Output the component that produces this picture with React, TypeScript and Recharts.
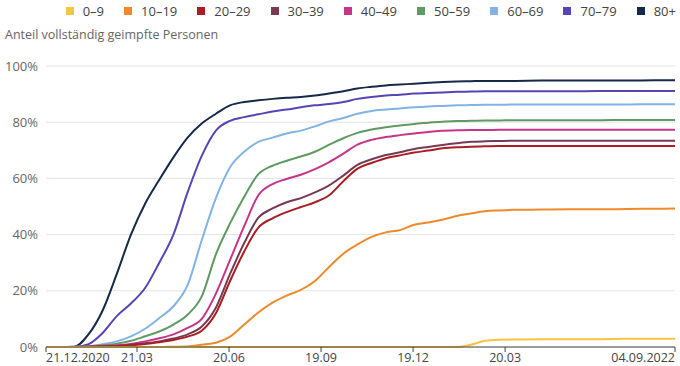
import React from "react";
import { LineChart, Line, XAxis, YAxis, CartesianGrid } from "recharts";

const dates = [
  "2020-12-21", "2021-01-04", "2021-01-18", "2021-02-01", "2021-02-15", "2021-03-01",
  "2021-03-15", "2021-03-29", "2021-04-12", "2021-04-26", "2021-05-10", "2021-05-24",
  "2021-06-07", "2021-06-21", "2021-07-05", "2021-07-19", "2021-08-02", "2021-08-16",
  "2021-08-30", "2021-09-13", "2021-09-27", "2021-10-11", "2021-10-25", "2021-11-08",
  "2021-11-22", "2021-12-06", "2021-12-20", "2022-01-03", "2022-01-17", "2022-01-31",
  "2022-02-14", "2022-02-28", "2022-03-14", "2022-03-28", "2022-04-25", "2022-05-23",
  "2022-06-20", "2022-07-18", "2022-08-15", "2022-09-04",
];

const age0 = [
  0, 0, 0, 0, 0, 0, 0, 0, 0, 0, 0, 0, 0, 0, 0, 0, 0, 0, 0, 0,
  0, 0, 0, 0, 0, 0, 0, 0, 0, 0, 0.8, 2.2, 2.6, 2.7, 2.8, 2.8, 2.8, 2.9, 2.9, 2.9,
];
const age10 = [
  0, 0, 0, 0, 0, 0, 0, 0, 0, 0.1, 0.2, 0.8, 1.5, 3.7, 8, 12.3, 15.8, 18.3, 20.3, 23.5,
  28.5, 33.2, 36.5, 39.2, 40.8, 41.6, 43.5, 44.3, 45.3, 46.6, 47.5, 48.3, 48.6, 48.8, 48.9, 49, 49, 49.1, 49.2, 49.3,
];
const age20 = [
  0, 0, 0, 0.1, 0.2, 0.3, 0.6, 1.1, 1.7, 2.5, 3.7, 5.8, 12, 23.5, 34, 42.5, 45.8, 48, 49.8, 51.5,
  54, 59, 63.5, 65.5, 67.2, 68.2, 69.2, 69.9, 70.7, 71.1, 71.3, 71.4, 71.5, 71.5, 71.5, 71.5, 71.5, 71.5, 71.5, 71.5,
];
const age30 = [
  0, 0, 0, 0.1, 0.2, 0.4, 0.8, 1.3, 2, 3, 4.5, 7.3, 14, 26, 37, 46, 49.3, 51.5, 53, 55,
  57.5, 61, 64.8, 66.8, 68.3, 69.3, 70.5, 71.2, 71.9, 72.5, 73, 73.2, 73.3, 73.4, 73.4, 73.4, 73.4, 73.4, 73.4, 73.4,
];
const age40 = [
  0, 0, 0, 0.1, 0.3, 0.6, 1.1, 2, 3.1, 4.5, 6.8, 10, 19, 31, 43, 54, 58, 59.8, 61.3, 63.3,
  65.8, 68.8, 72, 73.7, 74.7, 75.4, 76, 76.5, 77, 77.1, 77.2, 77.2, 77.3, 77.3, 77.3, 77.3, 77.3, 77.3, 77.3, 77.3,
];
const age50 = [
  0, 0, 0, 0.2, 0.6, 1.2, 2.2, 3.8, 5.5, 8, 11.5, 18, 33, 44, 53.5, 61.5, 64.5, 66.3, 67.8, 69.5,
  72, 74.3, 76.2, 77.4, 78.2, 78.8, 79.4, 79.8, 80.2, 80.4, 80.5, 80.6, 80.6, 80.7, 80.7, 80.7, 80.7, 80.8, 80.8, 80.8,
];
const age60 = [
  0, 0, 0.1, 0.3, 1, 2, 3.8, 6.5, 10.3, 14.5, 22, 38, 53, 64, 69.5, 73, 74.5, 76, 77, 78.5,
  80.3, 81.5, 83, 84, 84.5, 84.9, 85.3, 85.6, 85.8, 86, 86.1, 86.2, 86.2, 86.3, 86.3, 86.3, 86.3, 86.3, 86.4, 86.4,
];
const age70 = [
  0, 0, 0, 1, 5, 11, 15.5, 21, 30, 40, 55, 68, 77, 80.5, 81.8, 82.8, 83.8, 84.5, 85.3, 86,
  86.5, 87.2, 88.3, 89, 89.5, 89.8, 90.2, 90.4, 90.6, 90.8, 90.9, 91, 91, 91, 91, 91, 91.1, 91.1, 91.1, 91.1,
];
const age80 = [
  0, 0, 0.1, 4.5, 13, 26, 40, 51, 59.5, 67.5, 74.5, 79.5, 83, 86, 87.2, 87.8, 88.3, 88.7, 89, 89.5,
  90.2, 91, 92, 92.6, 93.1, 93.4, 93.7, 94, 94.3, 94.5, 94.6, 94.7, 94.7, 94.7, 94.8, 94.8, 94.8, 94.8, 94.9, 94.9,
];

const groups = ["0–9", "10–19", "20–29", "30–39", "40–49", "50–59", "60–69", "70–79", "80+"];
const colors = ["#f6c444", "#ee8a2c", "#a81e22", "#783a52", "#c83488", "#5f9a63", "#82b3e5", "#5844b5", "#15294a"];
const values = [age0, age10, age20, age30, age40, age50, age60, age70, age80];

const tickDates = ["2020-12-21", "2021-03-21", "2021-06-20", "2021-09-19", "2021-12-19", "2022-03-20", "2022-09-04"];
const tickLabels = ["21.12.2020", "21.03", "20.06", "19.09", "19.12", "20.03", "04.09.2022"];
const yTicks = [0, 20, 40, 60, 80, 100];

const font = "'Open Sans', sans-serif";
const start = Date.UTC(2020, 11, 21);
const toDay = (s: string) => {
  const [y, m, d] = s.split("-").map(Number);
  return Math.round((Date.UTC(y, m - 1, d) - start) / 86400000);
};

const xTicks = tickDates.map(toDay);
const data = dates.map((d, i) => {
  const row: Record<string, number> = { day: toDay(d) };
  values.forEach((v, j) => (row["g" + j] = v[i]));
  return row;
});

const XTick = ({ x, y, payload }: any) => {
  const i = xTicks.indexOf(payload.value);
  const anchor = i === 0 ? "start" : i === xTicks.length - 1 ? "end" : "middle";
  return (
    <text x={x} y={y} dy="0.71em" textAnchor={anchor} fill="#444" fontSize={12.5} fontFamily={font}>
      {tickLabels[i]}
    </text>
  );
};

export default function App() {
  return (
    <div style={{ position: "absolute", left: 0, top: 0, width: 680, height: 366, fontFamily: font, background: "#fff" }}>
      <div style={{ position: "absolute", top: 2, right: 4, display: "flex", alignItems: "center", fontSize: 13, color: "#444" }}>
        {groups.map((g, i) => (
          <div key={g} style={{ display: "flex", alignItems: "center", marginLeft: i ? 20 : 0 }}>
            <span style={{ width: 8, height: 8, background: colors[i], marginRight: 9, display: "inline-block" }} />
            <span>{g}</span>
          </div>
        ))}
      </div>
      <div style={{ position: "absolute", left: 5, top: 26, fontSize: 12.5, color: "#666" }}>
        Anteil vollständig geimpfte Personen
      </div>
      <LineChart width={680} height={366} data={data} margin={{ top: 66, right: 5, bottom: 0, left: 0 }}>
        <CartesianGrid vertical={false} stroke="#e3e3e3" />
        <XAxis
          dataKey="day"
          type="number"
          domain={[0, 622]}
          ticks={xTicks}
          interval={0}
          height={19}
          tickSize={5}
          tickMargin={1}
          stroke="#444"
          tick={<XTick />}
        />
        <YAxis
          width={46}
          domain={[0, 100]}
          ticks={yTicks}
          axisLine={false}
          tickLine={false}
          tickFormatter={(v: number) => `${v}%`}
          tick={{ fill: "#666", fontSize: 13, fontFamily: font }}
        />
        {values
          .map((_, j) => 8 - j)
          .map((j) => (
            <Line
              key={j}
              dataKey={"g" + j}
              name={groups[j]}
              type="monotone"
              stroke={colors[j]}
              strokeWidth={2}
              dot={false}
              activeDot={false}
              isAnimationActive={false}
            />
          ))}
      </LineChart>
    </div>
  );
}
